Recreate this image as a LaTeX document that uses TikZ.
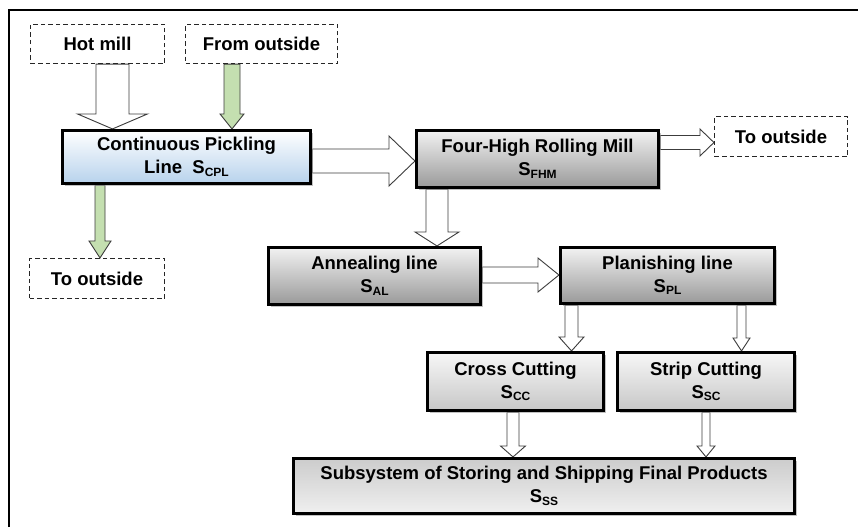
\documentclass[tikz,border=0pt]{standalone}
\usepackage{fontspec}
\setmainfont{Liberation Sans}
\usetikzlibrary{calc}
\usetikzlibrary{shadows}
\usetikzlibrary{backgrounds}

\definecolor{pickblue}{HTML}{B7D2EC}
\definecolor{flowgreen}{HTML}{C4DFB0}
\definecolor{edgegray}{HTML}{3C3C3C}

\newcommand{\sys}[1]{S\raisebox{-0.25ex}{\fontsize{12}{12}\selectfont #1}}

% block arrows: style, from, to, position, shaft half width, head half width, head length
\newcommand{\blockdown}[7]{%
  \coordinate (ax) at (#4,0);
  \path (#2.south -| ax) coordinate (s) (#3.north -| ax) coordinate (e);
  \draw[#1] ($(s)+(-#5,0)$) -- ($(e)+(-#5,-#7)$) -- ($(e)+(-#6,-#7)$) -- (e)
    -- ($(e)+(#6,-#7)$) -- ($(e)+(#5,-#7)$) -- ($(s)+(#5,0)$) -- cycle;}
\newcommand{\blockright}[7]{%
  \coordinate (ay) at (0,#4);
  \path (#2.east |- ay) coordinate (s) (#3.west |- ay) coordinate (e);
  \draw[#1] ($(s)+(0,-#5)$) -- ($(e)+(-#7,-#5)$) -- ($(e)+(-#7,-#6)$) -- (e)
    -- ($(e)+(-#7,#6)$) -- ($(e)+(-#7,#5)$) -- ($(s)+(0,#5)$) -- cycle;}

\begin{document}
\begin{tikzpicture}
[x=1pt,y=-1pt,%
  ext/.style={draw=black!85,dash pattern=on 4.5pt off 3pt,line width=1.1pt,inner sep=0pt,%
    font=\fontsize{18.5}{23}\selectfont\bfseries},%
  proc/.style={draw=black,line width=2.6pt,inner sep=0pt,align=center,%
    font=\fontsize{18.5}{23}\selectfont\bfseries,%
    drop shadow={shadow xshift=2.5pt,shadow yshift=-2.5pt,fill=black!40,opacity=.6}},%
  blueproc/.style={proc,top color=white,bottom color=pickblue},%
  grayproc/.style={proc,top color=black!5,bottom color=black!40},%
  lightproc/.style={proc,top color=black!3,bottom color=black!22},%
  storeproc/.style={proc,top color=black!20,bottom color=black!6},%
  hollow/.style={draw=edgegray,line width=0.9pt,fill=white},%
  greenflow/.style={draw=edgegray,line width=0.9pt,fill=flowgreen}]
\useasboundingbox (0,0) rectangle (858,527);
\draw[line width=1.5pt] (9,527) -- (9,10);
\draw[line width=2.5pt] (8.25,10) -- (858,10);

\node[ext,minimum width=134,minimum height=39] (hot) at (97.5,44) {Hot mill};
\node[ext,minimum width=152,minimum height=39] (from) at (261.5,44) {From outside};
\node[blueproc,minimum width=248.5,minimum height=53.5] (cpl) at (186.5,157)
  {Continuous Pickling\\Line\ \ \sys{CPL}};
\node[grayproc,minimum width=242.5,minimum height=57.5] (fhm) at (537.5,159)
  {Four-High Rolling Mill\\\sys{FHM}};
\node[ext,minimum width=133,minimum height=40] (outR) at (781,136.5) {To outside};
\node[ext,minimum width=135,minimum height=40] (outL) at (97,278.5) {To outside};
\node[grayproc,minimum width=212.5,minimum height=57.5] (al) at (374.5,276)
  {Annealing line\\\sys{AL}};
\node[grayproc,minimum width=214.5,minimum height=56.5] (pl) at (667.5,275.5)
  {Planishing line\\\sys{PL}};
\node[lightproc,minimum width=176.5,minimum height=58.5] (cc) at (515.5,381.5)
  {Cross Cutting\\\sys{CC}};
\node[lightproc,minimum width=177.5,minimum height=58.5] (sc) at (706,381.5)
  {Strip Cutting\\\sys{SC}};
\node[storeproc,minimum width=501.5,minimum height=55.5] (ss) at (544,486)
  {Subsystem of Storing and Shipping Final Products\\\sys{SS}};

\begin{scope}[on background layer]
\blockdown{hollow}{hot}{cpl}{112.5}{16.5}{35}{15}
\blockdown{greenflow}{from}{cpl}{232}{8}{12}{15}
\blockdown{greenflow}{cpl}{outL}{100}{5}{11}{17}
\blockright{hollow}{cpl}{fhm}{161}{12}{25}{26}
\blockright{hollow}{fhm}{outR}{142.5}{7}{13.5}{14}
\blockdown{hollow}{fhm}{al}{437}{11}{22}{14}
\blockright{hollow}{al}{pl}{275}{8}{17}{21}
\blockdown{hollow}{pl}{cc}{571.5}{6.5}{12.5}{14}
\blockdown{hollow}{pl}{sc}{741.5}{4.5}{8.5}{13}
\blockdown{hollow}{cc}{ss}{513}{6}{12.5}{11}
\blockdown{hollow}{sc}{ss}{706}{4}{9}{11}
\end{scope}
\end{tikzpicture}
\end{document}
